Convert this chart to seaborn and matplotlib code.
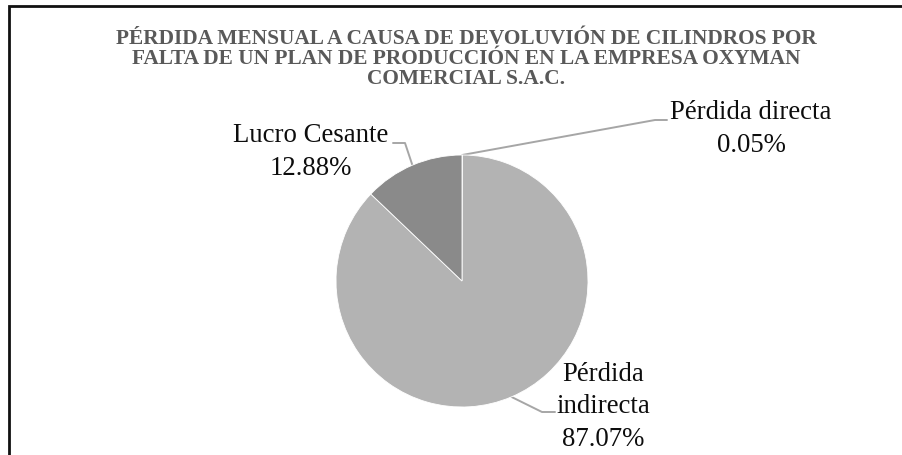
import matplotlib
matplotlib.use("Agg")
import matplotlib.pyplot as plt
import numpy as np
import seaborn as sns
from matplotlib.patches import Rectangle

# datos
categorias = ["Pérdida directa", "Pérdida indirecta", "Lucro Cesante"]
porcentajes = [0.05, 87.07, 12.88]
etiquetas = ["Pérdida directa\n0.05%", "Pérdida\nindirecta\n87.07%", "Lucro Cesante\n12.88%"]
titulo = ("PÉRDIDA MENSUAL A CAUSA DE DEVOLUVIÓN DE CILINDROS POR\n"
          "FALTA DE UN PLAN DE PRODUCCIÓN EN LA EMPRESA OXYMAN\n"
          "COMERCIAL S.A.C.")

sns.set_theme(style="white")
plt.rcParams["font.family"] = ["Liberation Serif", "DejaVu Serif"]

W, H = 903, 456
fig = plt.figure(figsize=(W / 100, H / 100), dpi=100)
ax = fig.add_axes([0, 0, 1, 1])
ax.set_xlim(0, W)
ax.set_ylim(H, 0)
ax.axis("off")

colores = sns.color_palette(["#595959", "#b3b3b3", "#8a8a8a"])
cx, cy, r = 462, 282, 126

# pie dibujado en un eje propio para no invertir la orientacion
pax = fig.add_axes([(cx - r) / W, (H - cy - r) / H, 2 * r / W, 2 * r / H])
wedges, _ = pax.pie(porcentajes, colors=colores, startangle=90, counterclock=False,
                    wedgeprops=dict(edgecolor="white", linewidth=0.6))
pax.set_xlim(-1, 1)
pax.set_ylim(-1, 1)
pax.set_aspect("equal")

# posicion del texto y codo del conector (pixeles)
texto_pos = [(751, 129), (603, 407), (311, 152)]
codos = [((655, 121), (667, 121)), ((542, 413), (555, 413)), ((405, 144), (393, 144))]

for w, lab, tp, (c1, c2) in zip(wedges, etiquetas, texto_pos, codos):
    ang = np.deg2rad((w.theta1 + w.theta2) / 2)
    ex, ey = cx + r * np.cos(ang), cy - r * np.sin(ang)
    ax.plot([ex, c1[0], c2[0]], [ey, c1[1], c2[1]], color="#a6a6a6", lw=1.4)
    ax.text(tp[0], tp[1], lab, ha="center", va="center", fontsize=19.3,
            color="#0d0d0d", linespacing=1.38)

ax.text(466, 59, titulo, ha="center", va="center", fontsize=15.4, fontweight="bold",
        color="#595959", linespacing=1.0)

fig.patches.append(Rectangle((8.5 / W, -0.1), 1.2, 1.1 - 7 / H, transform=fig.transFigure,
                             fill=False, edgecolor="#111111", lw=2, clip_on=False))

fig.savefig("out.png", dpi=100)
